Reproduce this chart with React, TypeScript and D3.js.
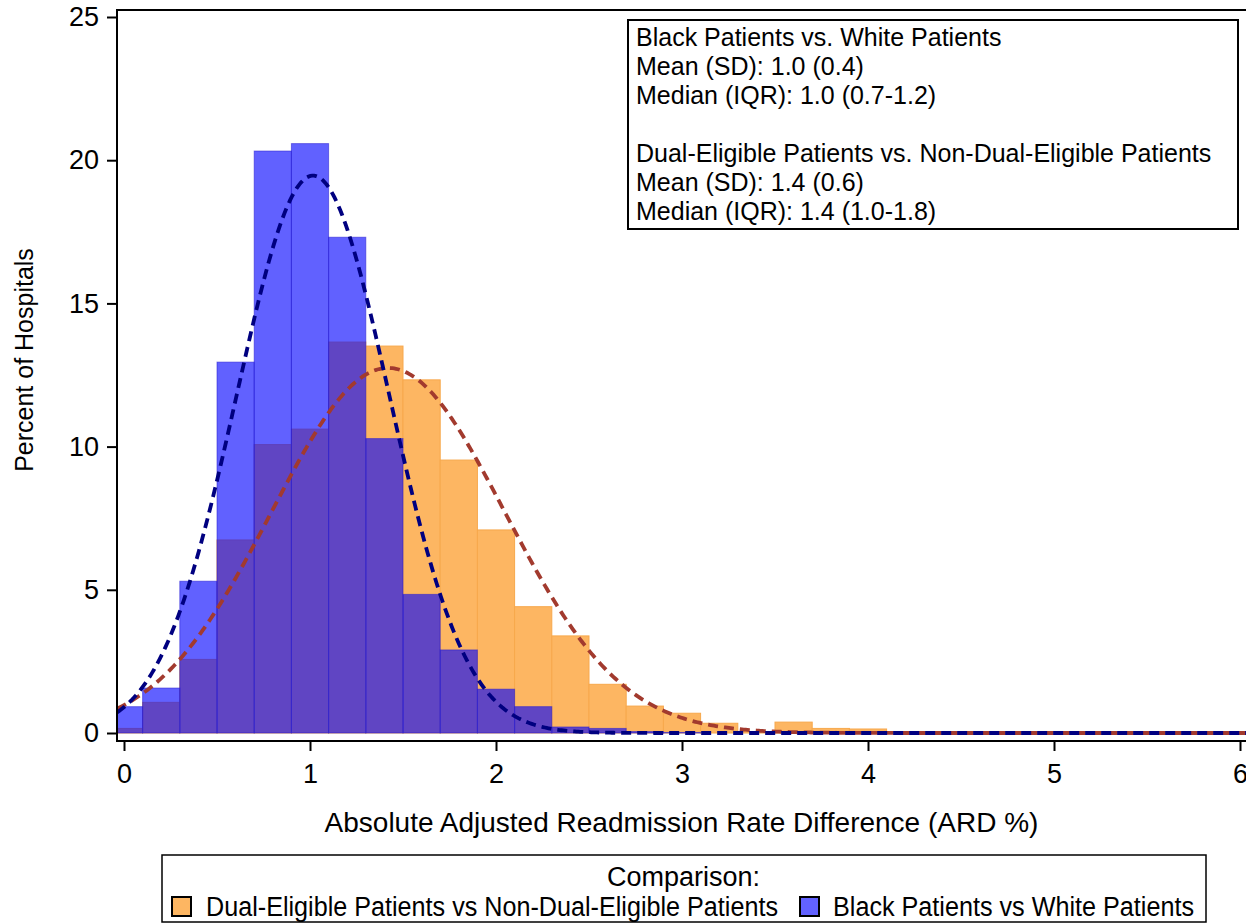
import React, { useEffect, useRef } from "react";
import * as d3 from "d3";

// histogram bins (bin midpoints, width 0.2)
const binMids = [0, 0.2, 0.4, 0.6, 0.8, 1.0, 1.2, 1.4, 1.6, 1.8, 2.0, 2.2, 2.4, 2.6, 2.8, 3.0, 3.2, 3.4, 3.6, 3.8, 4.0];
const binWidth = 0.2;
const blackWhitePct = [0.92, 1.57, 5.3, 12.95, 20.32, 20.58, 17.31, 10.28, 4.84, 2.9, 1.53, 0.92, 0.21, 0.16, 0.05, 0.02, 0, 0, 0, 0, 0];
const dualPct = [0.16, 1.07, 2.57, 6.74, 10.07, 10.61, 13.65, 13.51, 12.33, 9.53, 7.09, 4.41, 3.39, 1.7, 0.94, 0.69, 0.34, 0.05, 0.38, 0.16, 0.14];

// normal fits (mean, sd)
const blackWhiteFit = { mean: 1.016, sd: 0.41 };
const dualFit = { mean: 1.42, sd: 0.626 };

const xTicks = [0, 1, 2, 3, 4, 5, 6];
const yTicks = [0, 5, 10, 15, 20, 25];

const insetLines = [
  "Black Patients vs. White Patients",
  "Mean (SD): 1.0 (0.4)",
  "Median (IQR): 1.0 (0.7-1.2)",
  "",
  "Dual-Eligible Patients vs. Non-Dual-Eligible Patients",
  "Mean (SD): 1.4 (0.6)",
  "Median (IQR): 1.4 (1.0-1.8)",
];
const legendTitle = "Comparison:";
const legendItems = [
  { label: "Dual-Eligible Patients vs Non-Dual-Eligible Patients", fill: "#FDB662", x: 172, textX: 206, textLen: 572 },
  { label: "Black Patients vs White Patients", fill: "#6262FF", x: 800, textX: 833, textLen: 361 },
];

const W = 1246;
const H = 923;
const plot = { left: 117, right: 1252, top: 10, bottom: 741 };
const FONT = "'Liberation Sans', Arial, sans-serif";

const xScale = d3.scaleLinear().domain([0, 6]).range([124, 1240]);
const yScale = d3.scaleLinear().domain([0, 25]).range([733, 17]);

const normal = (x, m, s) =>
  (100 * binWidth) / (s * Math.sqrt(2 * Math.PI)) * Math.exp(-((x - m) ** 2) / (2 * s * s));

const curvePath = (fit) => {
  const x0 = xScale.invert(plot.left);
  const x1 = xScale.invert(plot.right);
  const xs = d3.range(x0, x1, 0.01);
  return d3
    .line()
    .x((d) => xScale(d))
    .y((d) => yScale(normal(d, fit.mean, fit.sd)))(xs);
};

export default function App() {
  const xAxisRef = useRef(null);
  const yAxisRef = useRef(null);

  useEffect(() => {
    const xAxis = d3
      .axisBottom(xScale)
      .tickValues(xTicks)
      .tickFormat(d3.format("d"))
      .tickSize(10)
      .tickSizeOuter(0)
      .tickPadding(13);
    d3.select(xAxisRef.current)
      .call(xAxis)
      .call((g) => g.select(".domain").remove())
      .call((g) => g.selectAll(".tick line").attr("stroke", "#000").attr("stroke-width", 2))
      .call((g) =>
        g.selectAll(".tick text").attr("font-size", 27).attr("font-family", FONT).attr("fill", "#000")
      );

    const yAxis = d3
      .axisLeft(yScale)
      .tickValues(yTicks)
      .tickFormat(d3.format("d"))
      .tickSize(10)
      .tickSizeOuter(0)
      .tickPadding(8);
    d3.select(yAxisRef.current)
      .call(yAxis)
      .call((g) => g.select(".domain").remove())
      .call((g) => g.selectAll(".tick line").attr("stroke", "#000").attr("stroke-width", 2))
      .call((g) =>
        g.selectAll(".tick text").attr("font-size", 27).attr("font-family", FONT).attr("fill", "#000")
      );
  }, []);

  const bar = (mid, v) => ({
    x: xScale(mid - binWidth / 2),
    w: xScale(mid + binWidth / 2) - xScale(mid - binWidth / 2),
    y: yScale(v),
    h: yScale(0) - yScale(v),
  });

  return (
    <svg
      width={W}
      height={H}
      style={{ position: "absolute", left: 0, top: 0, background: "#fff" }}
      fontFamily={FONT}
    >
      <defs>
        <clipPath id="plotClip">
          <rect x={plot.left} y={plot.top} width={plot.right - plot.left} height={plot.bottom - plot.top} />
        </clipPath>
      </defs>
      <rect x={0} y={0} width={W} height={H} fill="#fff" />

      <g clipPath="url(#plotClip)">
        {dualPct.map((v, i) => {
          if (v <= 0) return null;
          const b = bar(binMids[i], v);
          return <rect key={"d" + i} x={b.x} y={b.y} width={b.w} height={b.h} fill="#FDB662" stroke="#F7A84C" strokeWidth={1} />;
        })}
        {blackWhitePct.map((v, i) => {
          if (v <= 0) return null;
          const b = bar(binMids[i], v);
          return (
            <rect
              key={"b" + i}
              x={b.x}
              y={b.y}
              width={b.w}
              height={b.h}
              fill="rgba(0,0,255,0.62)"
              stroke="rgba(40,30,210,0.55)"
              strokeWidth={1}
            />
          );
        })}
        <path d={curvePath(dualFit)} fill="none" stroke="#A23A2E" strokeWidth={3.8} strokeDasharray="10 6" />
        <path d={curvePath(blackWhiteFit)} fill="none" stroke="#000080" strokeWidth={3.8} strokeDasharray="10 6" />
      </g>

      <rect
        x={plot.left}
        y={plot.top}
        width={plot.right - plot.left}
        height={plot.bottom - plot.top}
        fill="none"
        stroke="#000"
        strokeWidth={2}
      />
      <g ref={xAxisRef} transform={`translate(0,${plot.bottom})`} />
      <g ref={yAxisRef} transform={`translate(${plot.left},0)`} />

      <text x={681.5} y={832} textAnchor="middle" fontSize={28}>
        Absolute Adjusted Readmission Rate Difference (ARD %)
      </text>
      <text transform="translate(33,360) rotate(-90)" textAnchor="middle" fontSize={25}>
        Percent of Hospitals
      </text>

      {/* inset stats box */}
      <rect x={628} y={20} width={610} height={209} fill="#fff" stroke="#000" strokeWidth={2} />
      {insetLines.map((t, i) => (
        <text key={"in" + i} x={636} y={46 + i * 29} fontSize={25}>
          {t}
        </text>
      ))}

      {/* legend */}
      <rect x={162} y={855} width={1044} height={67} fill="#fff" stroke="#000" strokeWidth={1.5} />
      <text x={683.5} y={886} textAnchor="middle" fontSize={27}>
        {legendTitle}
      </text>
      {legendItems.map((d) => (
        <g key={d.label}>
          <rect x={d.x} y={897} width={19} height={19} fill={d.fill} stroke="#000" strokeWidth={2} />
          <text x={d.textX} y={916} fontSize={27} textLength={d.textLen} lengthAdjust="spacingAndGlyphs">
            {d.label}
          </text>
        </g>
      ))}
    </svg>
  );
}
